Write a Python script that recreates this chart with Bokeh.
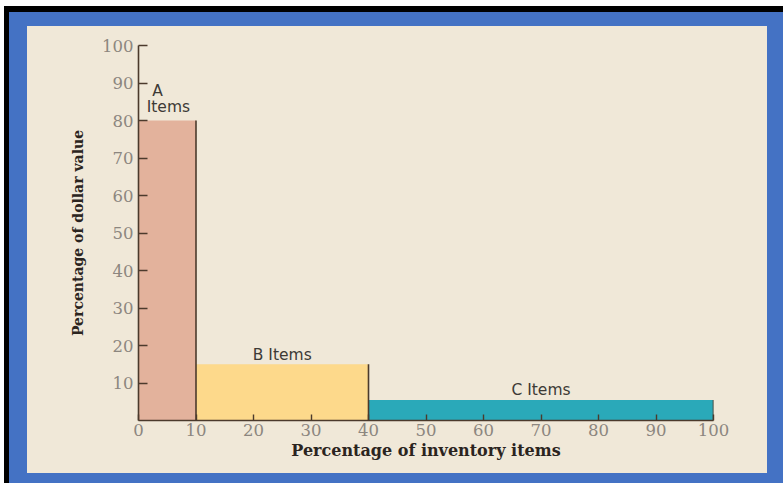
from bokeh.plotting import figure
from bokeh.models import ColumnDataSource, Column, FixedTicker, Range1d
from bokeh.core.properties import value
from bokeh.embed import file_html
from bokeh.resources import INLINE

# Data
classes = ["A", "B", "C"]
inv_start = [0, 10, 40]
inv_end = [10, 40, 100]
dollar_pct = [80, 15, 5.5]
bar_colors = ["#e3b29c", "#fdd98b", "#2aa9b9"]

label_text = ["A", "Items", "B Items", "C Items"]
label_x = [3.3, 5.2, 25, 70]
label_y = [88, 83.5, 17.5, 8.2]

x_ticks = [0, 10, 20, 30, 40, 50, 60, 70, 80, 90, 100]
y_ticks = [10, 20, 30, 40, 50, 60, 70, 80, 90, 100]

BEIGE = "#f0e8d8"
DARK = "#4b3a2c"

p = figure(width=740, height=447, output_backend="svg", toolbar_location=None,
           x_range=Range1d(0, 100), y_range=Range1d(0, 100),
           min_border_left=111, min_border_right=54, min_border_top=19, min_border_bottom=53,
           background_fill_color=BEIGE, border_fill_color=BEIGE)
p.margin = (14, 16, 10, 18)
p.styles = {"background-color": BEIGE}
p.outline_line_color = None
p.grid.grid_line_color = None

src = ColumnDataSource(dict(left=inv_start, right=inv_end, top=dollar_pct,
                            bottom=[0, 0, 0], color=bar_colors))
p.quad(left="left", right="right", bottom="bottom", top="top", fill_color="color",
       line_color=None, source=src)
p.segment(x0="right", y0="bottom", x1="right", y1="top", line_color=DARK, line_width=1.6, source=src)

lsrc = ColumnDataSource(dict(x=label_x, y=label_y, t=label_text))
p.text(x="x", y="y", text="t", source=lsrc, text_align="center", text_baseline="middle",
       text_font=value("DejaVu Sans"), text_font_size="15.5px", text_color="#3d3a36")

for ax in (p.xaxis[0], p.yaxis[0]):
    ax.axis_line_color = DARK
    ax.axis_line_width = 1.6
    ax.major_tick_line_color = DARK
    ax.major_tick_line_width = 1.4
    ax.major_tick_out = 0
    ax.minor_tick_line_color = None
    ax.major_label_text_font = "DejaVu Serif"
    ax.major_label_text_font_size = "16.5px"
    ax.major_label_text_color = "#8c867f"
    ax.axis_label_text_font = "DejaVu Serif"
    ax.axis_label_text_font_style = "bold"
    ax.axis_label_text_color = "#2b2420"

p.xaxis.ticker = FixedTicker(ticks=x_ticks)
p.yaxis.ticker = FixedTicker(ticks=y_ticks)
p.xaxis.major_tick_in = 6
p.yaxis.major_tick_in = 9
p.xaxis.major_label_standoff = 3
p.yaxis.major_label_standoff = 5
p.xaxis.axis_label = "Percentage of inventory items"
p.yaxis.axis_label = "Percentage of dollar value"
p.xaxis.axis_label_text_font_size = "16px"
p.yaxis.axis_label_text_font_size = "14px"
p.xaxis.axis_label_standoff = 2
p.yaxis.axis_label_standoff = 13

inner = Column(children=[p], margin=(6, 0, 0, 5),
               styles={"background-color": "#4472c4"})
outer = Column(children=[inner], margin=(6, 0, 0, 4),
               styles={"background-color": "#000000"})

open("out.html", "w").write(file_html(outer, INLINE))
